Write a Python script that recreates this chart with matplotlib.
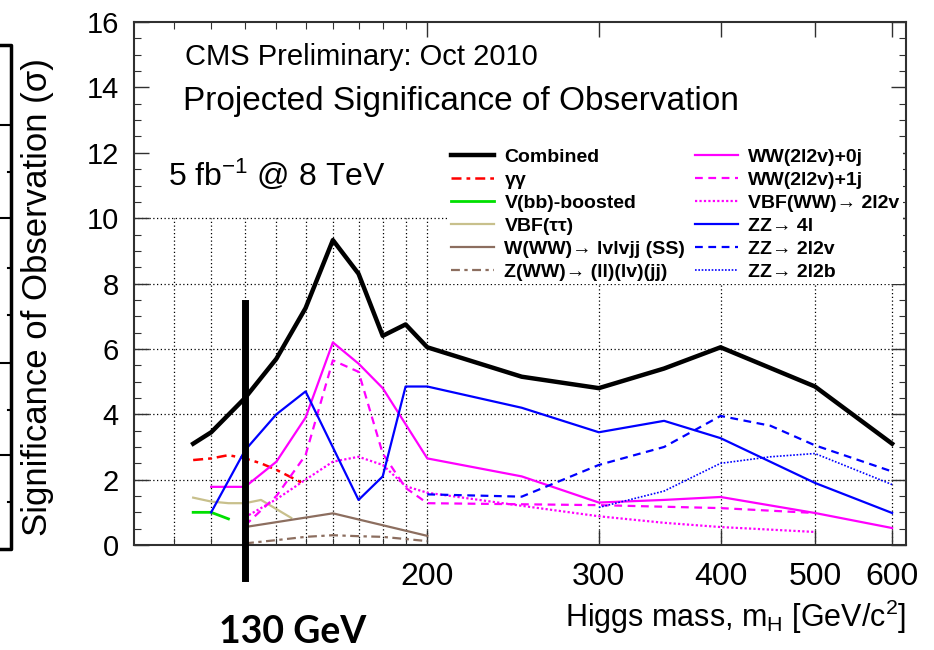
import matplotlib
matplotlib.use('Agg')
import matplotlib.pyplot as plt
from matplotlib.ticker import FixedLocator, MultipleLocator, NullFormatter, FuncFormatter
from matplotlib.lines import Line2D

# ---------- plot settings ---------- #
matplotlib.rc('font', family=['Liberation Sans', 'DejaVu Sans'])
matplotlib.rc('mathtext', fontset='custom', rm='Liberation Sans', it='Liberation Sans:italic')
matplotlib.rc('axes', edgecolor='303030', linewidth=1.5)

# ---------- data: significance (sigma) vs Higgs mass (GeV) ---------- #
combined_m = [115, 120, 130, 140, 150, 160, 170, 180, 190, 200, 250, 300, 350, 400, 500, 600]
combined = [3.1, 3.45, 4.5, 5.7, 7.25, 9.33, 8.3, 6.4, 6.75, 6.05, 5.15, 4.8, 5.4, 6.05, 4.85, 3.1]

gg_m = [115, 120, 125, 130, 135, 140, 150]
gg = [2.6, 2.65, 2.75, 2.65, 2.5, 2.3, 1.85]

vbb_m = [115, 120, 125]
vbb = [1.0, 1.0, 0.8]

vbftt_m = [115, 120, 125, 130, 135, 145]
vbftt = [1.45, 1.33, 1.28, 1.28, 1.38, 0.83]

wss_m = [130, 160, 200]
wss = [0.55, 0.97, 0.28]

zww_m = [130, 140, 150, 160, 170, 180, 200]
zww = [0.05, 0.15, 0.25, 0.3, 0.27, 0.25, 0.12]

ww0_m = [120, 130, 140, 150, 160, 170, 180, 200, 250, 300, 350, 400, 500, 600]
ww0 = [1.78, 1.78, 2.55, 3.9, 6.2, 5.55, 4.8, 2.65, 2.1, 1.3, 1.38, 1.47, 0.98, 0.52]

ww1_m = [130, 140, 150, 160, 170, 180, 190, 200, 300, 400, 500]
ww1 = [0.6, 1.5, 2.75, 5.65, 5.3, 2.8, 1.75, 1.28, 1.22, 1.13, 0.98]

vbfww_m = [130, 140, 150, 160, 170, 180, 190, 200, 250, 300, 350, 400, 500]
vbfww = [0.85, 1.4, 2.0, 2.55, 2.7, 2.45, 1.8, 1.6, 1.2, 0.88, 0.68, 0.55, 0.4]

zz4l_m = [120, 130, 140, 150, 170, 180, 190, 200, 250, 300, 350, 400, 500, 600]
zz4l = [1.0, 2.9, 4.0, 4.7, 1.38, 2.1, 4.85, 4.85, 4.2, 3.45, 3.8, 3.27, 1.9, 0.98]

zz2l2v_m = [200, 250, 300, 350, 400, 450, 500, 600]
zz2l2v = [1.55, 1.48, 2.45, 3.0, 3.95, 3.65, 3.05, 2.25]

zz2l2b_m = [300, 350, 400, 450, 500, 600]
zz2l2b = [1.15, 1.65, 2.5, 2.7, 2.8, 1.85]

x_major = [200, 300, 400, 500, 600]
x_minor = [110, 120, 130, 140, 150, 160, 170, 180, 190]
highlight_mass = 130

# label, masses, values, color, linewidth, linestyle
series = [
    ('Combined', combined_m, combined, 'black', 3.2, '-'),
    ('\u03b3\u03b3', gg_m, gg, '#ff0000', 1.8, (0, (4, 2, 1.5, 2))),
    ('V(bb)-boosted', vbb_m, vbb, '#00e000', 2.0, '-'),
    ('VBF(\u03c4\u03c4)', vbftt_m, vbftt, '#c8c08c', 1.6, '-'),
    ('W(WW)\u2192 lvlvjj (SS)', wss_m, wss, '#8c6e5f', 1.6, '-'),
    ('Z(WW)\u2192 (ll)(lv)(jj)', zww_m, zww, '#8c6e5f', 1.6, (0, (4, 2, 1.5, 2))),
    ('WW(2l2v)+0j', ww0_m, ww0, '#ff00ff', 1.6, '-'),
    ('WW(2l2v)+1j', ww1_m, ww1, '#ff00ff', 1.6, (0, (3.5, 2.5))),
    ('VBF(WW)\u2192 2l2v', vbfww_m, vbfww, '#ff00ff', 1.6, (0, (1, 1))),
    ('ZZ\u2192 4l', zz4l_m, zz4l, '#0000ff', 1.6, '-'),
    ('ZZ\u2192 2l2v', zz2l2v_m, zz2l2v, '#0000ff', 1.6, (0, (3.5, 2.5))),
    ('ZZ\u2192 2l2b', zz2l2b_m, zz2l2b, '#0000ff', 1.2, (0, (1, 1))),
]

fig = plt.figure(figsize=(9.34, 6.5), dpi=100)
ax = fig.add_axes([0.1435, 0.1615, 0.8265, 0.8045])

ax.set_xscale('log')
ax.set_xlim(100, 620)
ax.set_ylim(0, 16)

# dotted grid, only below the text block
grid_kw = dict(color='black', linestyle=(0, (1, 2)), linewidth=0.9, zorder=1)
ax.vlines(x_minor + x_major, 0, 10, **grid_kw)
for yg in [2, 4, 6, 8, 10]:
    ax.axhline(yg, **grid_kw)

for label, m, v, color, lw, ls in series:
    ax.plot(m, v, color=color, linewidth=lw, linestyle=ls, label=label, zorder=3)

# 130 GeV marker
ax.plot([highlight_mass, highlight_mass], [-1.0, 7.4], color='black', linewidth=5,
        clip_on=False, zorder=5)

ax.xaxis.set_major_locator(FixedLocator(x_major))
ax.xaxis.set_minor_locator(FixedLocator(x_minor))
ax.xaxis.set_major_formatter(FuncFormatter(lambda v, p: '%g' % v))
ax.xaxis.set_minor_formatter(NullFormatter())
ax.yaxis.set_major_locator(MultipleLocator(2))
ax.yaxis.set_minor_locator(MultipleLocator(0.5))

ax.tick_params(which='both', direction='in', top=True, right=True, colors='#303030')
ax.tick_params(which='major', length=11, width=1.0)
ax.tick_params(which='minor', length=5, width=0.8)
ax.tick_params(axis='x', which='major', labelsize=23, pad=12, labelcolor='black')
ax.tick_params(axis='y', which='major', labelsize=21, pad=11, labelcolor='black')

ax.set_xlabel('Higgs mass, m$_{\\mathregular{H}}$ [GeV/c$^{\\mathregular{2}}$]', fontsize=22,
              loc='right')
ax.xaxis.set_label_coords(1.0, -0.10)

fig.text(38 / 934, 1 - 297 / 650, 'Significance of Observation (\u03c3)', fontsize=25,
         rotation=90, ha='center', va='center')

fig.text(185 / 934, 1 - 65 / 650, 'CMS Preliminary: Oct 2010', fontsize=21, va='baseline')
fig.text(183 / 934, 1 - 110 / 650, 'Projected Significance of Observation', fontsize=24,
         va='baseline')
fig.text(168 / 934, 1 - 185 / 650, '5 fb$^{\\mathregular{-1}}$ @ 8 TeV', fontsize=23,
         va='baseline')
fig.text(219 / 934, 1 - 632 / 650, '130 GeV', fontsize=27, fontweight='bold',
         family='Lato', va='center')

leg = ax.legend(ncol=2, loc='upper left', bbox_to_anchor=(448 / 934, 1 - 145 / 650),
                bbox_transform=fig.transFigure, frameon=True, fancybox=False,
                prop=dict(family='Liberation Sans', weight='bold', size=14),
                handlelength=2.2, handletextpad=0.55, columnspacing=0.5,
                labelspacing=0.28, borderpad=0.15, borderaxespad=0)
leg.get_frame().set_facecolor('white')
leg.get_frame().set_edgecolor('none')
leg.get_frame().set_alpha(1)
leg.set_zorder(6)

# remains of the neighbouring slide plot at the left edge
px = lambda x, y: (x / 934, 1 - y / 650)
frame_kw = dict(color='black', linewidth=2.5, transform=fig.transFigure)
fig.add_artist(Line2D([px(0, 45)[0], px(11, 45)[0], px(11, 549)[0], px(0, 549)[0]],
                      [px(0, 45)[1], px(11, 45)[1], px(11, 549)[1], px(0, 549)[1]], **frame_kw))
for yt, ln in [(125, 10), (172, 3), (218, 10), (268, 3), (315, 3), (363, 10),
               (410, 3), (455, 10), (502, 3)]:
    fig.add_artist(Line2D([px(11 - ln, yt)[0], px(11, yt)[0]],
                          [px(0, yt)[1], px(0, yt)[1]], color='black', linewidth=1.5,
                          transform=fig.transFigure))

fig.savefig('out.png', dpi=100, facecolor='white')
